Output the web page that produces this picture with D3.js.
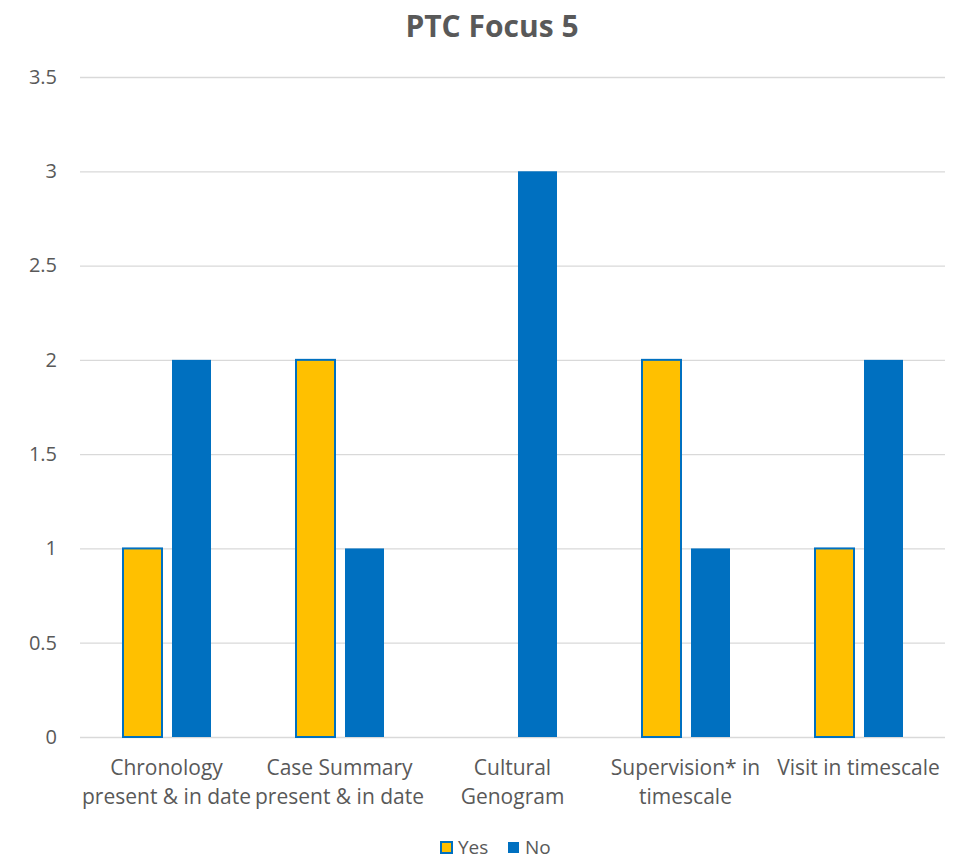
<!DOCTYPE html>
<html>
<head>
<meta charset="utf-8">
<script src="https://cdn.jsdelivr.net/npm/d3@7"></script>
<style>
body{margin:0;background:#fff;}
text{font-family:"Open Sans",Calibri,sans-serif;fill:#595959;}
</style>
</head>
<body>
<div id="chart-area"></div>
<script>
const categories = [
	['Chronology','present & in date'],
	['Case Summary','present & in date'],
	['Cultural','Genogram'],
	['Supervision* in','timescale'],
	['Visit in timescale']
]
const yesValues = [1,2,0,2,1]
const noValues = [2,1,3,1,2]
const yTicks = [0,0.5,1,1.5,2,2.5,3,3.5]
const seriesNames = ['Yes','No']

const W = 964, H = 861
const MARGIN = {LEFT:80, RIGHT:19, TOP:77, BOTTOM:124}
const WIDTH = W - MARGIN.LEFT - MARGIN.RIGHT
const HEIGHT = H - MARGIN.TOP - MARGIN.BOTTOM

const svg = d3.select('#chart-area').append('svg')
.attr('width',W).attr('height',H)

svg.append('text')
.attr('x',492).attr('y',37)
.attr('text-anchor','middle')
.style('font-size','30px').style('font-weight','bold')
.text('PTC Focus 5')

const g = svg.append('g').attr('transform',`translate(${MARGIN.LEFT},${MARGIN.TOP})`)

const y = d3.scaleLinear().domain([0,3.5]).range([HEIGHT,0])
const x0 = d3.scaleBand().domain(d3.range(categories.length)).range([0,WIDTH])
const x1 = d3.scaleBand().domain(seriesNames).range([43,131]).paddingInner(0.204)

const yAxis = g.append('g').call(d3.axisLeft(y).tickValues(yTicks).tickSize(-WIDTH).tickFormat(d3.format('')))
yAxis.select('.domain').remove()
yAxis.selectAll('.tick line').attr('stroke','#d9d9d9').attr('stroke-width',1.3)
yAxis.selectAll('.tick text').attr('x',-23).style('font-size','20px').attr('fill','#595959')

const colors = {Yes:'#ffc000', No:'#0070c0'}
const rows = categories.map((c,i)=>({i, Yes:yesValues[i], No:noValues[i]}))

const groups = g.selectAll('.cat').data(rows).enter().append('g')
.attr('transform',d=>`translate(${x0(d.i)},0)`)

groups.selectAll('rect').data(d=>seriesNames.map(s=>({s, v:d[s]})).filter(e=>e.v>0))
.enter().append('rect')
.attr('x',d=>x1(d.s))
.attr('width',x1.bandwidth())
.attr('y',d=>y(d.v))
.attr('height',d=>HEIGHT-y(d.v))
.attr('fill',d=>colors[d.s])
.attr('stroke',d=>d.s==='Yes'?'#0070c0':'none')
.attr('stroke-width',2)

const labels = g.selectAll('.xlabel').data(categories).enter().append('text')
.attr('text-anchor','middle')
.attr('transform',(d,i)=>`translate(${x0(i)+x0.bandwidth()/2},${HEIGHT+38})`)
.style('font-size','21px')
labels.each(function(d){
	d.forEach((line,k)=>{
		d3.select(this).append('tspan').attr('x',0).attr('y',k*29).text(line)
	})
})

const legend = svg.append('g').attr('transform','translate(440,840)')
seriesNames.forEach((s,i)=>{
	const row = legend.append('g').attr('transform',`translate(${i*67},0)`)
	row.append('rect').attr('x',1).attr('y',2).attr('width',11).attr('height',11)
	.attr('fill',colors[s]).attr('stroke',s==='Yes'?'#0070c0':'none').attr('stroke-width',2)
	row.append('text').attr('x',18).attr('y',14).style('font-size','19px').text(s)
})
</script>
</body>
</html>
